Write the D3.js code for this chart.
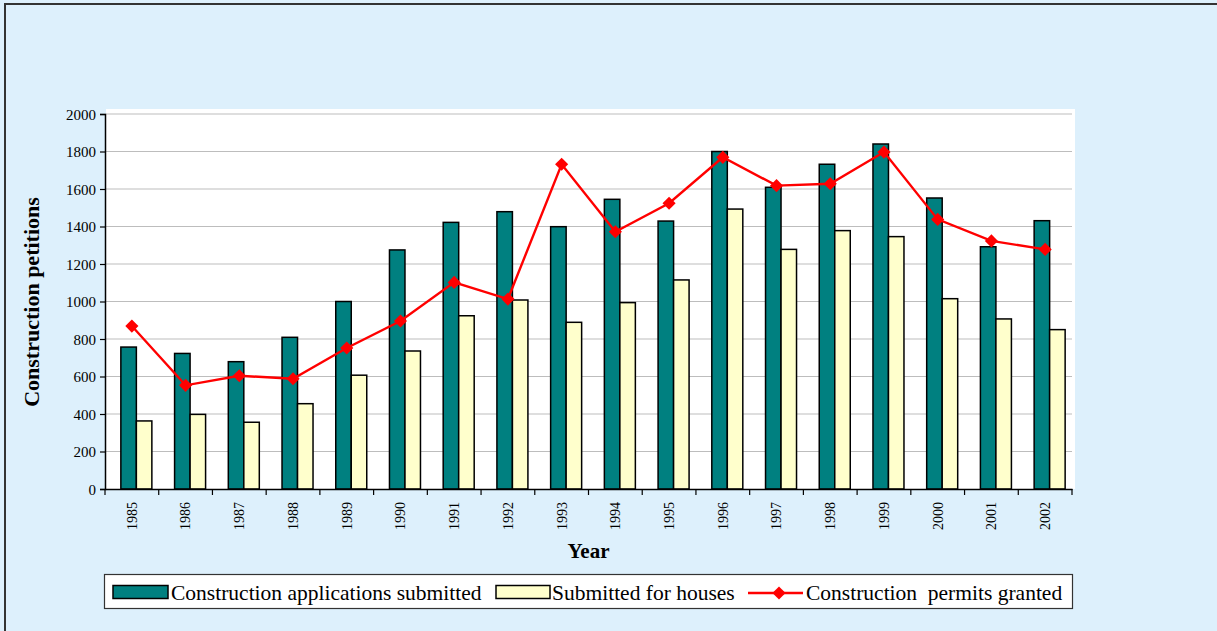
<!DOCTYPE html>
<html>
<head>
<meta charset="utf-8">
<script src="https://cdn.jsdelivr.net/npm/d3@7/dist/d3.min.js"></script>
<style>
  html, body { margin: 0; padding: 0; background: #ddf0fc; }
  svg { display: block; }
  text { font-family: "Liberation Serif", "Times New Roman", serif; fill: #000; }
</style>
</head>
<body>
<script>
// Chart data
const years = ["1985","1986","1987","1988","1989","1990","1991","1992","1993",
               "1994","1995","1996","1997","1998","1999","2000","2001","2002"];
const applications = [757, 723, 679, 809, 1000, 1275, 1422, 1479, 1399,
                      1545, 1429, 1800, 1609, 1732, 1840, 1552, 1292, 1431];
const houses = [363, 398, 356, 455, 607, 736, 924, 1008, 889,
                994, 1115, 1493, 1278, 1378, 1346, 1015, 907, 850];
const permits = [869, 553, 604, 588, 752, 896, 1102, 1013, 1732,
                 1372, 1524, 1769, 1618, 1628, 1797, 1438, 1323, 1278];
const yTicks = [0, 200, 400, 600, 800, 1000, 1200, 1400, 1600, 1800, 2000];

const W = 1217, H = 631;
const svg = d3.select("body").append("svg")
  .attr("width", W).attr("height", H);

// outer frame
svg.append("rect")
  .attr("x", 5).attr("y", 4).attr("width", W + 20).attr("height", H + 20)
  .attr("fill", "#ddf0fc").attr("stroke", "#333").attr("stroke-width", 2);

const plotLeft = 105, plotRight = 1072, plotTop = 114, plotBottom = 489;

const x = d3.scaleBand().domain(years).range([plotLeft, plotRight]).padding(0);
const y = d3.scaleLinear().domain([0, 2000]).range([plotBottom, plotTop]);
// offsets of the two bars relative to the category centre
const sub = d3.scaleBand().domain(["apps", "houses"]).range([-11, 20]).padding(0);

// plot area
svg.append("rect")
  .attr("x", plotLeft + 1).attr("y", 109).attr("width", 1075 - plotLeft - 1).attr("height", plotBottom - 109)
  .attr("fill", "#fff");

// gridlines
svg.append("g").selectAll("line")
  .data(yTicks.filter(d => d > 0))
  .join("line")
  .attr("x1", plotLeft).attr("x2", plotRight)
  .attr("y1", d => y(d)).attr("y2", d => y(d))
  .attr("stroke", "#bdbdbd").attr("stroke-width", 1.2);

// bars
const cx = d => x(d) + x.bandwidth() / 2;
svg.append("g").selectAll("rect")
  .data(years.map((yr, i) => ({ yr, v: applications[i] })))
  .join("rect")
  .attr("x", d => cx(d.yr) + sub("apps"))
  .attr("width", sub.bandwidth())
  .attr("y", d => y(d.v))
  .attr("height", d => y(0) - y(d.v))
  .attr("fill", "#008080").attr("stroke", "#000").attr("stroke-width", 1.5);

svg.append("g").selectAll("rect")
  .data(years.map((yr, i) => ({ yr, v: houses[i] })))
  .join("rect")
  .attr("x", d => cx(d.yr) + sub("houses"))
  .attr("width", sub.bandwidth())
  .attr("y", d => y(d.v))
  .attr("height", d => y(0) - y(d.v))
  .attr("fill", "#ffffcc").attr("stroke", "#000").attr("stroke-width", 1.5);

// axes
const yAxis = svg.append("g")
  .attr("transform", `translate(${plotLeft},0)`)
  .call(d3.axisLeft(y).tickValues(yTicks).tickSize(5).tickPadding(4).tickFormat(d3.format("d")));
yAxis.attr("font-family", null);
yAxis.select(".domain").attr("stroke", "#000").attr("stroke-width", 1.5);
yAxis.selectAll(".tick line").attr("stroke", "#000").attr("stroke-width", 1.2);
yAxis.selectAll("text").style("font-size", "15px").attr("dy", "0.34em");

const xAxis = svg.append("g")
  .attr("transform", `translate(0,${plotBottom})`)
  .call(d3.axisBottom(x).tickSize(0).tickSizeOuter(0));
xAxis.attr("font-family", null);
xAxis.select(".domain").attr("stroke", "#000").attr("stroke-width", 1.5);
xAxis.selectAll("text")
  .style("font-size", "14px")
  .attr("text-anchor", "end")
  .attr("transform", "rotate(-90)")
  .attr("x", -13).attr("y", 0).attr("dy", "0.35em");
// category boundary ticks
svg.append("g").selectAll("line")
  .data(years.concat(["end"]))
  .join("line")
  .attr("x1", (d, i) => plotLeft + i * x.step())
  .attr("x2", (d, i) => plotLeft + i * x.step())
  .attr("y1", plotBottom).attr("y2", plotBottom + 6)
  .attr("stroke", "#000").attr("stroke-width", 1.2);

// permits line
const line = d3.line().x((d, i) => cx(years[i])).y(d => y(d));
svg.append("path")
  .datum(permits)
  .attr("d", line)
  .attr("fill", "none").attr("stroke", "#ff0000").attr("stroke-width", 2.4);

const diamond = d3.symbol().type(d3.symbolDiamond2).size(110);
svg.append("g").selectAll("path")
  .data(permits)
  .join("path")
  .attr("d", diamond)
  .attr("transform", (d, i) => `translate(${cx(years[i])},${y(d)})`)
  .attr("fill", "#ff0000");

// axis titles
svg.append("text")
  .attr("x", (plotLeft + plotRight) / 2).attr("y", 558)
  .attr("text-anchor", "middle")
  .style("font-size", "21px").style("font-weight", "bold")
  .text("Year");

svg.append("text")
  .attr("transform", `translate(39,302) rotate(-90)`)
  .attr("text-anchor", "middle")
  .style("font-size", "22px").style("font-weight", "bold")
  .text("Construction petitions");

// legend
const legend = svg.append("g");
legend.append("rect")
  .attr("x", 104.5).attr("y", 574.5).attr("width", 968).attr("height", 34)
  .attr("fill", "#fff").attr("stroke", "#333").attr("stroke-width", 1.2);

legend.append("rect")
  .attr("x", 113).attr("y", 585.5).attr("width", 55).attr("height", 13)
  .attr("fill", "#008080").attr("stroke", "#000").attr("stroke-width", 1.5);
legend.append("text")
  .attr("x", 171).attr("y", 600).style("font-size", "21.5px")
  .text("Construction applications submitted");

legend.append("rect")
  .attr("x", 496).attr("y", 585.5).attr("width", 54).attr("height", 13)
  .attr("fill", "#ffffcc").attr("stroke", "#000").attr("stroke-width", 1.5);
legend.append("text")
  .attr("x", 552).attr("y", 600).style("font-size", "21.5px")
  .text("Submitted for houses");

legend.append("line")
  .attr("x1", 748).attr("x2", 803).attr("y1", 593).attr("y2", 593)
  .attr("stroke", "#ff0000").attr("stroke-width", 2.4);
legend.append("path")
  .attr("d", diamond)
  .attr("transform", "translate(779,593)")
  .attr("fill", "#ff0000");
legend.append("text")
  .attr("x", 806).attr("y", 600).style("font-size", "21.5px")
  .style("white-space", "pre").attr("xml:space", "preserve")
  .text("Construction  permits granted");
</script>
</body>
</html>
